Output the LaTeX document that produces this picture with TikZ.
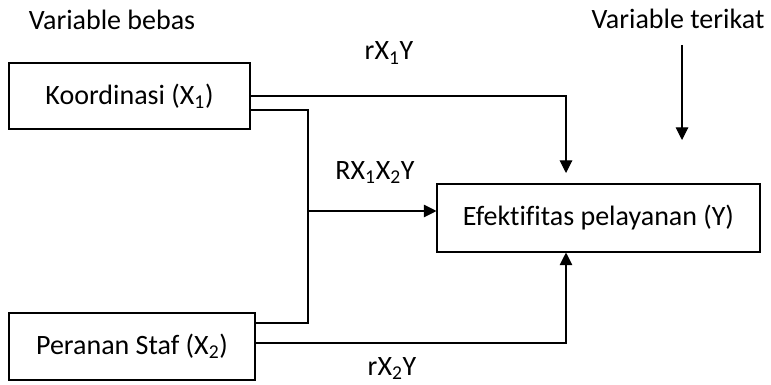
\documentclass[tikz,border=0pt]{standalone}
\usepackage{fontspec}
\setmainfont{Carlito}[Ligatures=NoCommon]
\usetikzlibrary{arrows.meta}
\begin{document}
\begin{tikzpicture}[x=0.75pt,y=-0.75pt,
  every node/.style={font=\fontsize{21}{24}\selectfont},
  box/.style={draw,line width=0.8pt,inner sep=0pt,anchor=center},
  conn/.style={line width=0.8pt},
  arr/.style={conn,-{Triangle[length=9.5pt,width=9.5pt]}},
  lbl/.style={inner sep=0pt,anchor=base}]
\useasboundingbox (0,0) rectangle (771,385);
\node[box,minimum width=241*0.75pt,minimum height=66*0.75pt] (X1) at (129.5,96) {Koordinasi (X\textsubscript{1})};
\node[box,minimum width=246*0.75pt,minimum height=67*0.75pt] (X2) at (132,346.5) {Peranan Staf (X\textsubscript{2})};
\node[box,minimum width=323*0.75pt,minimum height=68*0.75pt] (Y) at (598.5,218) {Efektifitas pelayanan (Y)};
\node[lbl] (vb) at (112,30) {Variable bebas};
\node[lbl] (vt) at (678,29) {Variable terikat};
\node[lbl] (l1) at (389,60) {rX\textsubscript{1}Y};
\node[lbl] (l2) at (375,179) {RX\textsubscript{1}X\textsubscript{2}Y};
\node[lbl] (l3) at (392,375) {rX\textsubscript{2}Y};
\coordinate (p1) at (566,96);
\coordinate (p1e) at (566,173);
\coordinate (a) at (308,110);
\coordinate (b) at (308,323);
\coordinate (j) at (308,211);
\coordinate (c) at (566,343);
\coordinate (t1) at (682,45);
\coordinate (t2) at (682,140);
\draw[arr] (X1.east |- p1) -- (p1) -- (p1e);
\draw[conn] (X1.east |- a) -- (a) -- (b) -- (X2.east |- b);
\draw[arr] (j) -- (Y.west |- j);
\draw[arr] (X2.east |- c) -- (c) -- (c |- Y.south);
\draw[arr] (t1) -- (t2);
\end{tikzpicture}
\end{document}
